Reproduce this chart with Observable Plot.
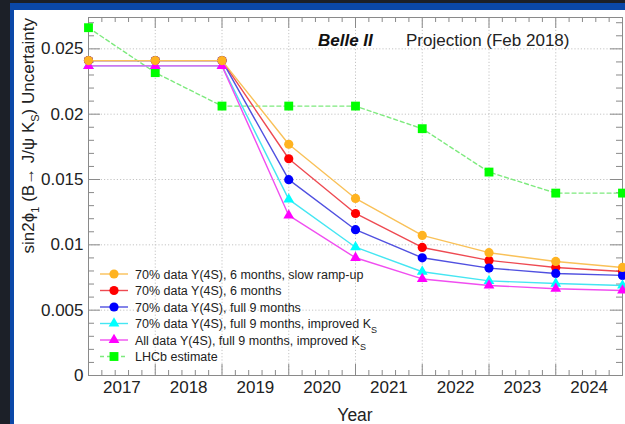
<!DOCTYPE html>
<html><head><meta charset="utf-8">
<script src="https://cdn.jsdelivr.net/npm/d3@7"></script>
<script src="https://cdn.jsdelivr.net/npm/@observablehq/plot@0.6"></script>
<style>
html,body{margin:0;padding:0;background:#1c2028;width:625px;height:424px;overflow:hidden;}
#blue{position:absolute;left:10px;top:3px;width:615px;height:421px;background:#0b48a8;}
#white{position:absolute;left:14px;top:10px;width:611px;height:414px;background:#fff;}
#chart{position:absolute;left:0;top:0;}
</style></head><body>
<div id="blue"></div><div id="white"></div><div id="chart"></div>
<script>
// ---- data ----
const binYears = [2016.5, 2017.5, 2018.5, 2019.5, 2020.5, 2021.5, 2022.5, 2023.5, 2024.5];
const yearLabels = [2017, 2018, 2019, 2020, 2021, 2022, 2023, 2024];
const yTickValues = [0, 0.005, 0.01, 0.015, 0.02, 0.025];
const yTickLabels = ["0", "0.005", "0.01", "0.015", "0.02", "0.025"];

const slowRampUp   = [0.0241, 0.0241, 0.0241, 0.0177, 0.01355, 0.01072, 0.0094, 0.00873, 0.00827];
const sixMonths    = [0.0241, 0.0241, 0.0241, 0.01659, 0.0124, 0.0098, 0.00881, 0.00827, 0.00796];
const nineMonths   = [0.0241, 0.0241, 0.0241, 0.01499, 0.01116, 0.00901, 0.00822, 0.00781, 0.00766];
const improvedKs   = [0.0237, 0.0237, 0.0237, 0.01348, 0.00982, 0.00794, 0.00724, 0.00704, 0.00689];
const allDataKs    = [0.0237, 0.0237, 0.0237, 0.01225, 0.00901, 0.00739, 0.00689, 0.00664, 0.00651];
const lhcbEstimate = [0.02662, 0.02318, 0.02062, 0.02062, 0.02062, 0.01889, 0.01557, 0.01396, 0.01396];

const legendLabels = [
  ["70% data Y(4S), 6 months, slow ramp-up"],
  ["70% data Y(4S), 6 months"],
  ["70% data Y(4S), full 9 months"],
  ["70% data Y(4S), full 9 months, improved K", "S"],
  ["All data Y(4S), full 9 months, improved K", "S"],
  ["LHCb estimate"]
];

// ---- styles ----
const series = [
  {vals: slowRampUp, marker: "#ffb320", line: "#f9c158", symbol: "circle", r: 4.6},
  {vals: sixMonths,  marker: "#ff0000", line: "#ee4a52", symbol: "circle", r: 4.6},
  {vals: nineMonths, marker: "#0000ff", line: "#5050e0", symbol: "circle", r: 4.6},
  {vals: improvedKs, marker: "#00ffff", line: "#45e6f2", symbol: "triangle", r: 4.0},
  {vals: allDataKs,  marker: "#ff00ff", line: "#f04ef0", symbol: "triangle", r: 4.0},
  {vals: lhcbEstimate, marker: "#00ff00", line: "#7eea7e", symbol: "square", r: 5.0, dashed: true}
];

const W = 625, H = 424, mL = 88, mR = 3, mT = 17, mB = 49;
const fw = W - mL - mR, fh = H - mT - mB;
const font = "'Liberation Sans', Arial, Helvetica, sans-serif";

const xMajor = binYears.slice(1, -1);
const xMinor = d3.range(0, 41).map(i => 2016.5 + i * 0.2).filter(v => Math.abs(v - Math.round(v - 0.5) - 0.5) > 1e-6);
const yMinor = d3.range(0, 28).map(i => i * 0.001).filter(v => Math.abs(v / 0.005 - Math.round(v / 0.005)) > 1e-6);

const tickColor = "#8a8a8a";
const marks = [
  Plot.gridX(xMajor, {stroke: "#c4c4c4", strokeOpacity: 1, strokeDasharray: "1.2,2"}),
  Plot.gridY(yTickValues.slice(1), {stroke: "#c4c4c4", strokeOpacity: 1, strokeDasharray: "1.2,2"}),
  Plot.tickX(xMinor, {x: d => d, insetTop: fh - 5, stroke: tickColor}),
  Plot.tickX(xMinor, {x: d => d, insetBottom: fh - 5, stroke: tickColor}),
  Plot.tickX(xMajor, {x: d => d, insetTop: fh - 11, stroke: tickColor}),
  Plot.tickX(xMajor, {x: d => d, insetBottom: fh - 11, stroke: tickColor}),
  Plot.tickY(yMinor, {y: d => d, insetRight: fw - 6, stroke: tickColor}),
  Plot.tickY(yMinor, {y: d => d, insetLeft: fw - 6, stroke: tickColor}),
  Plot.tickY(yTickValues, {y: d => d, insetRight: fw - 12, stroke: tickColor}),
  Plot.tickY(yTickValues, {y: d => d, insetLeft: fw - 12, stroke: tickColor}),
  Plot.frame({stroke: tickColor}),
  Plot.axisX(yearLabels, {tickSize: 0, tickPadding: 5, fontSize: 17, label: null, tickFormat: d => String(d)}),
  Plot.axisY(yTickValues, {tickSize: 0, tickPadding: 5, fontSize: 17, label: null,
    tickFormat: d => yTickLabels[yTickValues.indexOf(d)]})
];

// drawing order: LHCb, then red, blue, cyan, magenta, and orange on top
const order = [5, 1, 2, 3, 4, 0];
for (const k of order) {
  const s = series[k];
  const rows = binYears.map((x, i) => ({x, y: s.vals[i]}));
  marks.push(Plot.line(rows, {x: "x", y: "y", stroke: s.line, strokeWidth: 1.4,
    strokeDasharray: s.dashed ? "4,3" : null}));
  marks.push(Plot.dot(rows, {x: "x", y: "y", symbol: s.symbol, r: s.r, fill: s.marker, stroke: "none"}));
}

const chart = Plot.plot({
  width: W, height: H,
  marginLeft: mL, marginRight: mR, marginTop: mT, marginBottom: mB,
  x: {domain: [2016.5, 2024.5]},
  y: {domain: [0, 0.0274]},
  style: {background: "transparent", fontFamily: font, color: "#222", overflow: "visible"},
  marks
});
document.getElementById("chart").appendChild(chart);

const svg = d3.select(chart);

// title
svg.append("text").attr("x", 318).attr("y", 46).attr("text-anchor", "start").attr("font-family", font)
  .attr("font-size", 17).attr("font-weight", "bold").attr("font-style", "italic")
  .attr("fill", "#111").text("Belle II");
svg.append("text").attr("x", 406).attr("y", 46).attr("text-anchor", "start").attr("font-family", font)
  .attr("font-size", 17).attr("fill", "#222").text("Projection (Feb 2018)");

// x axis title
svg.append("text").attr("x", 355).attr("y", 421).attr("text-anchor", "middle")
  .attr("font-family", font).attr("font-size", 17.5).attr("fill", "#222").text("Year");

// y axis title
const yt = svg.append("text").attr("transform", "translate(34,18) rotate(-90)")
  .attr("text-anchor", "end").attr("font-family", font + ", 'DejaVu Sans'")
  .attr("font-size", 17).attr("fill", "#222");
yt.append("tspan").text("sin2ϕ");
yt.append("tspan").attr("dy", 5).attr("font-size", 11).text("1");
yt.append("tspan").attr("dy", -5).text(" (B→ J/ψ K");
yt.append("tspan").attr("dy", 5).attr("font-size", 11).text("S");
yt.append("tspan").attr("dy", -5).text(") Uncertainty");

// legend
const lg = svg.append("g").attr("text-anchor", "start");
const symGen = {circle: d3.symbolCircle, triangle: d3.symbolTriangle, square: d3.symbolSquare};
legendLabels.forEach((lab, i) => {
  const s = series[i];
  const y = 274 + i * 16.5;
  lg.append("line").attr("x1", 100).attr("x2", 128).attr("y1", y).attr("y2", y)
    .attr("stroke", s.line).attr("stroke-width", 1.4)
    .attr("stroke-dasharray", s.dashed ? "4,3" : null);
  lg.append("path").attr("transform", `translate(114,${y})`)
    .attr("d", d3.symbol(symGen[s.symbol], Math.PI * s.r * s.r)())
    .attr("fill", s.marker);
  const t = lg.append("text").attr("x", 135).attr("y", y + 4.5).attr("text-anchor", "start")
    .attr("font-family", font).attr("font-size", 12.5).attr("fill", "#222");
  t.append("tspan").text(lab[0]);
  if (lab[1]) t.append("tspan").attr("dy", 5).attr("font-size", 9).text(lab[1]);
});
</script>
</body></html>
